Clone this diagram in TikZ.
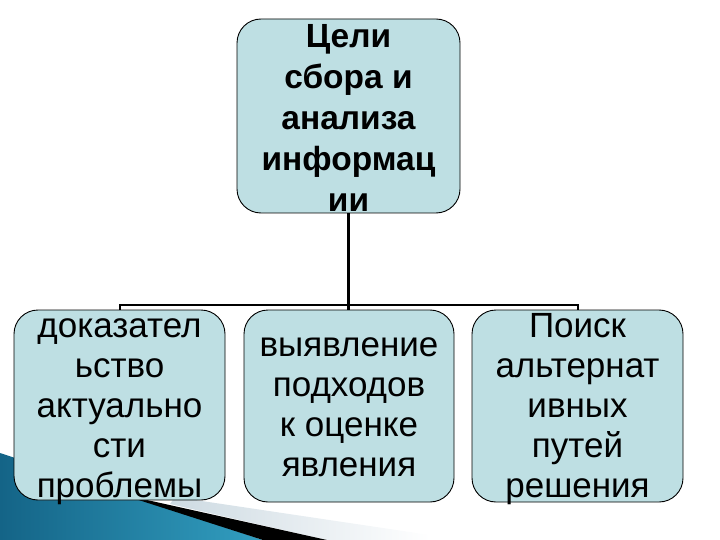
\documentclass[tikz,border=0pt]{standalone}
\usepackage{fontspec}
\setmainfont{Liberation Sans}
\definecolor{boxfill}{RGB}{190,223,227}
\definecolor{tealdark}{RGB}{20,100,135}
\definecolor{teallight}{RGB}{50,158,192}
\definecolor{paleband}{RGB}{205,218,226}
\begin{document}
\begin{tikzpicture}[x=1pt,y=-1pt,
  box/.style={draw=black, line width=0.9pt, fill=boxfill, rounded corners=24pt, inner sep=0pt},
  toptext/.style={anchor=north, align=center, inner sep=0pt, font=\fontsize{33.5}{41}\selectfont\bfseries},
  subtext/.style={anchor=north, align=center, inner sep=0pt, font=\fontsize{35}{40}\selectfont},
  link/.style={line width=2pt, draw=black},
  trunk/.style={line width=2.6pt, draw=black}]
\useasboundingbox (0,0) rectangle (720,540);
% background decoration
\shade[left color=paleband, right color=white] (175,497) -- (430,535) -- (430,540) -- (327,540) -- (170,504) -- cycle;
\shade[left color=tealdark, right color=teallight] (0,453) -- (263,540) -- (0,540) -- cycle;
\fill[black] (120,494) -- (327,540) -- (263,540) -- cycle;
% boxes
\node[box, minimum width=223pt, minimum height=194pt] (top) at (348.5,116) {};
\node[box, minimum width=211pt, minimum height=190pt] (left) at (119.5,405) {};
\node[box, minimum width=210pt, minimum height=192pt] (mid) at (349,406) {};
\node[box, minimum width=211pt, minimum height=192pt] (right) at (577.5,406) {};
% texts
\node[toptext] (toptxt) at (348.5,23) {\rule{0pt}{24pt}Цели\\сбора и\\анализа\\информац\\ии};
\node[subtext] (lefttxt) at (119.5,311) {\rule{0pt}{26pt}доказател\\ьство\\актуально\\сти\\проблемы};
\node[subtext] (midtxt) at (349,330) {\rule{0pt}{26pt}выявление\\подходов\\к оценке\\явления};
\node[subtext] (righttxt) at (577.5,311) {\rule{0pt}{26pt}Поиск\\альтернат\\ивных\\путей\\решения};
% connectors
\draw[link] (left.north) -- ++(0,-5) -| (right.north);
\draw[trunk] (top.south) -- (top.south |- mid.north);
\end{tikzpicture}
\end{document}
